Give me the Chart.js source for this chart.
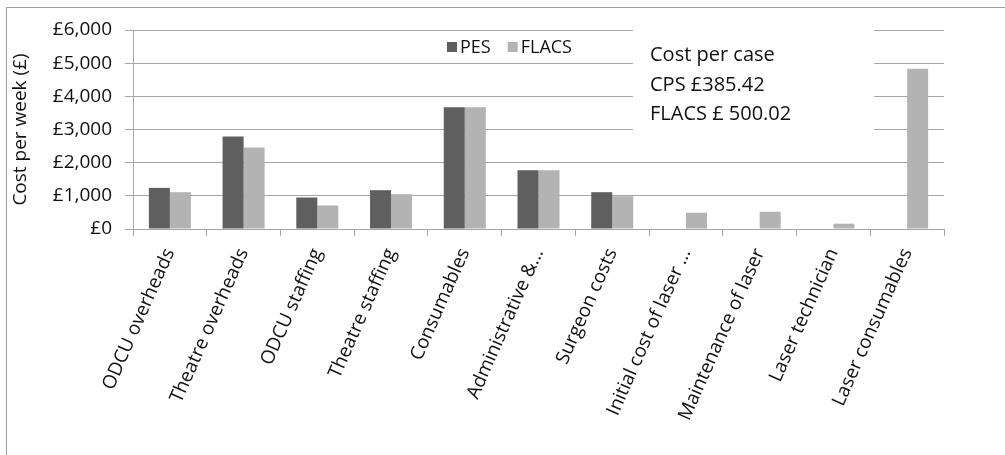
<!DOCTYPE html>
<html>
<head>
<meta charset="utf-8">
<script src="https://cdn.jsdelivr.net/npm/chart.js@4.4.0/dist/chart.umd.min.js"></script>
<style>
  html, body { margin: 0; padding: 0; background: #fff; }
  #wrap { position: relative; width: 1005px; height: 455px; overflow: hidden; }
  #c { position: absolute; left: 0; top: 0; }
  #frame { position: absolute; left: 6px; top: 7px; right: -2px; bottom: -2px;
           border-top: 1px solid #a0a0a0; border-left: 1px solid #a0a0a0; pointer-events: none; }
</style>
</head>
<body>
<div id="wrap">
  <canvas id="c" width="1005" height="455"></canvas>
  <div id="frame"></div>
</div>
<script>
const categories = [
  "ODCU overheads", "Theatre overheads", "ODCU staffing", "Theatre staffing",
  "Consumables", "Administrative &...", "Surgeon costs", "Initial cost of laser ...",
  "Maintenance of laser", "Laser technician", "Laser consumables"
];
const pesValues   = [1240, 2790, 950, 1170, 3670, 1770, 1110, 0, 0, 0, 0];
const flacsValues = [1110, 2460, 710, 1050, 3670, 1770, 990, 490, 520, 160, 4830];
const seriesNames = ["PES", "FLACS"];
const yTicks = [0, 1000, 2000, 3000, 4000, 5000, 6000];
const noteLines = ["Cost per case", "CPS \u00a3385.42", "FLACS \u00a3 500.02"];

const FONT = "'Open Sans', 'DejaVu Sans', sans-serif";
const COLORS = ["#5f5f5f", "#b3b3b3"];
const GRID = "#a6a6a6";

const overlay = {
  id: "overlay",
  beforeDatasetsDraw(chart) {
    const ctx = chart.ctx;
    ctx.save();
    ctx.fillStyle = "#fff";
    ctx.fillRect(633, 21, 241, 120);
    ctx.fillStyle = "#111";
    ctx.font = "20px " + FONT;
    ctx.textBaseline = "alphabetic";
    ctx.textAlign = "left";
    const base = [61, 91, 120];
    noteLines.forEach((t, i) => ctx.fillText(t, 650, base[i]));
    ctx.restore();
  },
  afterDraw(chart) {
    const ctx = chart.ctx;
    ctx.save();
    ctx.font = "18px " + FONT;
    ctx.textBaseline = "middle";
    ctx.textAlign = "left";
    let x = 447;
    const y = 47;
    chart.data.datasets.forEach((ds) => {
      ctx.fillStyle = ds.backgroundColor;
      ctx.fillRect(x, y - 5, 10, 10);
      ctx.fillStyle = "#111";
      ctx.fillText(ds.label, x + 13, y + 1);
      x += 13 + ctx.measureText(ds.label).width + 17;
    });
    ctx.restore();
  }
};

new Chart(document.getElementById("c"), {
  type: "bar",
  data: {
    labels: categories,
    datasets: [
      { label: seriesNames[0], data: pesValues, backgroundColor: COLORS[0], borderWidth: 0 },
      { label: seriesNames[1], data: flacsValues, backgroundColor: COLORS[1], borderWidth: 0 }
    ]
  },
  options: {
    responsive: false,
    devicePixelRatio: 1,
    animation: false,
    categoryPercentage: 0.57,
    barPercentage: 1.0,
    layout: { padding: { left: 0, right: 61, top: 30, bottom: 0 } },
    plugins: { legend: { display: false }, tooltip: { enabled: false } },
    scales: {
      x: {
        afterFit(s) { s.height = 226; },
        grid: { drawOnChartArea: false, drawTicks: true, tickLength: 7, color: GRID, offset: true },
        border: { color: GRID, width: 1 },
        ticks: {
          autoSkip: false, minRotation: 66, maxRotation: 66, padding: 9,
          color: "#111", font: { family: FONT, size: 19 }
        }
      },
      y: {
        min: yTicks[0], max: yTicks[yTicks.length - 1],
        afterFit(s) { s.width = 133; },
        afterBuildTicks(s) { s.ticks = yTicks.map(v => ({ value: v })); },
        grid: { color: GRID, tickLength: 8, drawTicks: true },
        border: { color: GRID, width: 1 },
        ticks: {
          padding: 13, color: "#111", font: { family: FONT, size: 19 },
          callback: (v) => "\u00a3" + Number(v).toLocaleString("en-GB")
        },
        title: {
          display: true, text: "Cost per week (\u00a3)", color: "#111",
          font: { family: FONT, size: 19 }, padding: { top: 9, bottom: 0 }
        }
      }
    }
  },
  plugins: [overlay]
});
</script>
</body>
</html>
